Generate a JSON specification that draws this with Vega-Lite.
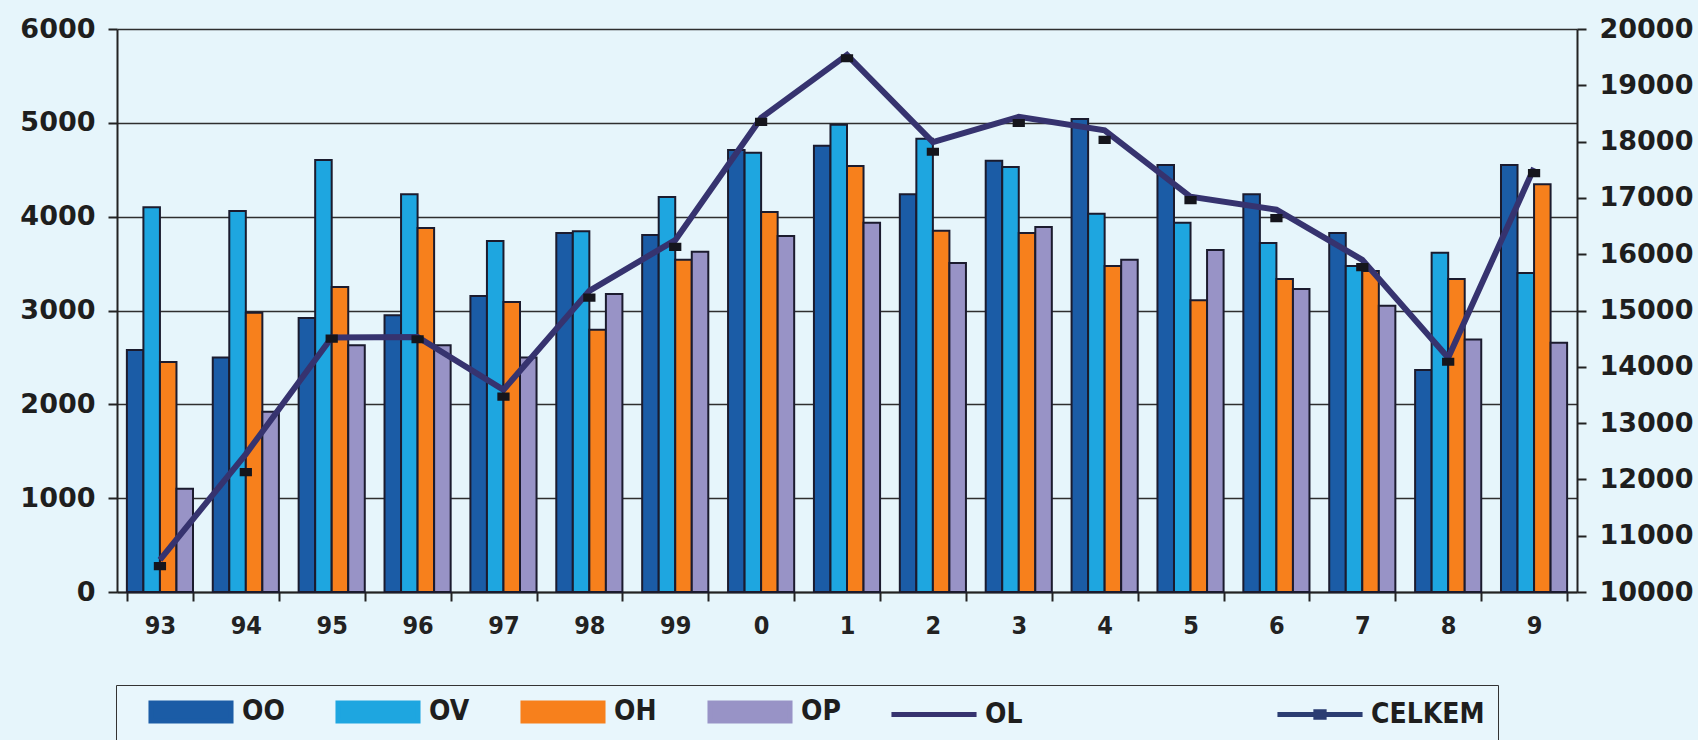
{
  "$schema": "https://vega.github.io/schema/vega-lite/v6.json",
  "width": 1460,
  "height": 563,
  "autosize": {"type": "none"},
  "padding": {"left": 117, "top": 29, "right": 121, "bottom": 148},
  "background": "#e6f5fb",
  "config": {"view": {"stroke": null}, "font": "DejaVu Sans"},
  "datasets": {
    "bars": [
      {"year": "93", "series": "OO", "value": 2580}, {"year": "93", "series": "OV", "value": 4100}, {"year": "93", "series": "OH", "value": 2450}, {"year": "93", "series": "OP", "value": 1100},
      {"year": "94", "series": "OO", "value": 2500}, {"year": "94", "series": "OV", "value": 4060}, {"year": "94", "series": "OH", "value": 2975}, {"year": "94", "series": "OP", "value": 1920},
      {"year": "95", "series": "OO", "value": 2920}, {"year": "95", "series": "OV", "value": 4605}, {"year": "95", "series": "OH", "value": 3250}, {"year": "95", "series": "OP", "value": 2630},
      {"year": "96", "series": "OO", "value": 2950}, {"year": "96", "series": "OV", "value": 4240}, {"year": "96", "series": "OH", "value": 3880}, {"year": "96", "series": "OP", "value": 2630},
      {"year": "97", "series": "OO", "value": 3155}, {"year": "97", "series": "OV", "value": 3740}, {"year": "97", "series": "OH", "value": 3090}, {"year": "97", "series": "OP", "value": 2500},
      {"year": "98", "series": "OO", "value": 3825}, {"year": "98", "series": "OV", "value": 3845}, {"year": "98", "series": "OH", "value": 2795}, {"year": "98", "series": "OP", "value": 3175},
      {"year": "99", "series": "OO", "value": 3805}, {"year": "99", "series": "OV", "value": 4210}, {"year": "99", "series": "OH", "value": 3540}, {"year": "99", "series": "OP", "value": 3625},
      {"year": "0", "series": "OO", "value": 4710}, {"year": "0", "series": "OV", "value": 4680}, {"year": "0", "series": "OH", "value": 4050}, {"year": "0", "series": "OP", "value": 3795},
      {"year": "1", "series": "OO", "value": 4755}, {"year": "1", "series": "OV", "value": 4980}, {"year": "1", "series": "OH", "value": 4540}, {"year": "1", "series": "OP", "value": 3935},
      {"year": "2", "series": "OO", "value": 4240}, {"year": "2", "series": "OV", "value": 4830}, {"year": "2", "series": "OH", "value": 3850}, {"year": "2", "series": "OP", "value": 3505},
      {"year": "3", "series": "OO", "value": 4595}, {"year": "3", "series": "OV", "value": 4530}, {"year": "3", "series": "OH", "value": 3825}, {"year": "3", "series": "OP", "value": 3890},
      {"year": "4", "series": "OO", "value": 5040}, {"year": "4", "series": "OV", "value": 4030}, {"year": "4", "series": "OH", "value": 3475}, {"year": "4", "series": "OP", "value": 3540},
      {"year": "5", "series": "OO", "value": 4550}, {"year": "5", "series": "OV", "value": 3935}, {"year": "5", "series": "OH", "value": 3110}, {"year": "5", "series": "OP", "value": 3645},
      {"year": "6", "series": "OO", "value": 4240}, {"year": "6", "series": "OV", "value": 3720}, {"year": "6", "series": "OH", "value": 3335}, {"year": "6", "series": "OP", "value": 3230},
      {"year": "7", "series": "OO", "value": 3825}, {"year": "7", "series": "OV", "value": 3475}, {"year": "7", "series": "OH", "value": 3420}, {"year": "7", "series": "OP", "value": 3050},
      {"year": "8", "series": "OO", "value": 2365}, {"year": "8", "series": "OV", "value": 3615}, {"year": "8", "series": "OH", "value": 3335}, {"year": "8", "series": "OP", "value": 2690},
      {"year": "9", "series": "OO", "value": 4550}, {"year": "9", "series": "OV", "value": 3400}, {"year": "9", "series": "OH", "value": 4345}, {"year": "9", "series": "OP", "value": 2655}
    ],
    "lines": [
      {"year": "93", "series": "OL", "value": 10570}, {"year": "94", "series": "OL", "value": 12450}, {"year": "95", "series": "OL", "value": 14520}, {"year": "96", "series": "OL", "value": 14530},
      {"year": "97", "series": "OL", "value": 13590}, {"year": "98", "series": "OL", "value": 15350}, {"year": "99", "series": "OL", "value": 16250}, {"year": "0", "series": "OL", "value": 18420},
      {"year": "1", "series": "OL", "value": 19540}, {"year": "2", "series": "OL", "value": 17990}, {"year": "3", "series": "OL", "value": 18440}, {"year": "4", "series": "OL", "value": 18200},
      {"year": "5", "series": "OL", "value": 17020}, {"year": "6", "series": "OL", "value": 16790}, {"year": "7", "series": "OL", "value": 15900}, {"year": "8", "series": "OL", "value": 14160},
      {"year": "9", "series": "OL", "value": 17530},
      {"year": "93", "series": "CELKEM", "value": 10460}, {"year": "94", "series": "CELKEM", "value": 12130}, {"year": "95", "series": "CELKEM", "value": 14500}, {"year": "96", "series": "CELKEM", "value": 14490},
      {"year": "97", "series": "CELKEM", "value": 13470}, {"year": "98", "series": "CELKEM", "value": 15230}, {"year": "99", "series": "CELKEM", "value": 16130}, {"year": "0", "series": "CELKEM", "value": 18350},
      {"year": "1", "series": "CELKEM", "value": 19480}, {"year": "2", "series": "CELKEM", "value": 17820}, {"year": "3", "series": "CELKEM", "value": 18330}, {"year": "4", "series": "CELKEM", "value": 18030},
      {"year": "5", "series": "CELKEM", "value": 16960}, {"year": "6", "series": "CELKEM", "value": 16640}, {"year": "7", "series": "CELKEM", "value": 15770}, {"year": "8", "series": "CELKEM", "value": 14090},
      {"year": "9", "series": "CELKEM", "value": 17440}
    ]
  },
  "encoding": {
    "x": {
      "field": "year",
      "type": "nominal",
      "scale": {"domain": ["93", "94", "95", "96", "97", "98", "99", "0", "1", "2", "3", "4", "5", "6", "7", "8", "9"], "paddingInner": 0.23, "paddingOuter": 0.115},
      "axis": {
        "title": null, "labelAngle": 0, "tickBand": "extent", "tickSize": 9, "tickWidth": 2, "tickColor": "#222222",
        "domainColor": "#222222", "domainWidth": 2, "grid": false,
        "labelFont": "DejaVu Sans Condensed", "labelFontSize": 25, "labelFontWeight": "bold",
        "labelColor": "#222222", "labelPadding": 12
      }
    }
  },
  "layer": [
    {
      "data": {"name": "bars"},
      "mark": {"type": "bar", "stroke": "#1b1b2e", "strokeWidth": 2},
      "encoding": {
        "xOffset": {"field": "series", "type": "nominal", "scale": {"domain": ["OO", "OV", "OH", "OP"], "paddingInner": 0, "paddingOuter": 0}},
        "y": {
          "field": "value", "type": "quantitative", "stack": null,
          "scale": {"domain": [0, 6000], "nice": false, "zero": true},
          "axis": {
            "orient": "left", "title": null, "values": [0, 1000, 2000, 3000, 4000, 5000, 6000], "format": "d",
            "grid": true, "gridColor": "#2e2e2e", "gridWidth": 1.5,
            "domainColor": "#222222", "domainWidth": 2, "tickColor": "#222222", "tickSize": 9, "tickWidth": 2,
            "labelFont": "DejaVu Sans", "labelFontSize": 27, "labelFontWeight": "bold", "labelColor": "#1e1e1e", "labelPadding": 13
          }
        },
        "color": {
          "field": "series", "type": "nominal",
          "scale": {
            "domain": ["OO", "OV", "OH", "OP", "OL", "\u2800\u2800\u2800", "CELKEM"],
            "range": ["#1b5ca6", "#1ea6e0", "#f7801c", "#9893c6", "#36336f", "transparent", "#2b3d72"]
          },
          "legend": {
            "title": null, "orient": "none", "legendX": -1, "legendY": 656, "direction": "horizontal", "columns": 7,
            "symbolSize": 529, "symbolOffset": 48, "symbolStrokeWidth": 5,
            "labelFont": "DejaVu Sans Condensed", "labelFontSize": 28, "labelFontWeight": "bold",
            "labelColor": "#1e1e1e", "labelOffset": 37, "labelLimit": 300, "columnPadding": 31, "padding": 13,
            "strokeColor": "#333333", "fillColor": "#e8f6fc",
            "encode": {"legend": {"strokeWidth": {"value": 2}}}
          }
        }
      }
    },
    {
      "data": {"name": "lines"},
      "layer": [
        {
          "transform": [{"filter": "datum.series == 'OL'"}],
          "mark": {"type": "line", "strokeWidth": 6, "strokeJoin": "miter"},
          "encoding": {
            "y": {
              "field": "value", "type": "quantitative",
              "scale": {"domain": [10000, 20000], "nice": false, "zero": false},
              "axis": {
                "orient": "right", "title": null, "values": [10000, 11000, 12000, 13000, 14000, 15000, 16000, 17000, 18000, 19000, 20000], "format": "d",
                "grid": false, "domainColor": "#222222", "domainWidth": 2, "tickColor": "#222222", "tickSize": 9, "tickWidth": 2,
                "labelFont": "DejaVu Sans", "labelFontSize": 27, "labelFontWeight": "bold", "labelColor": "#1e1e1e", "labelPadding": 13
              }
            },
            "color": {"field": "series", "type": "nominal"}
          }
        },
        {
          "transform": [{"filter": "datum.series == 'CELKEM'"}],
          "mark": {"type": "point", "size": 1156, "filled": true, "color": "#15151c", "opacity": 1},
          "encoding": {
            "y": {"field": "value", "type": "quantitative"},
            "shape": {
              "field": "series", "type": "nominal",
              "scale": {
                "domain": ["OO", "OV", "OH", "OP", "OL", "\u2800\u2800\u2800", "CELKEM"],
                "range": [
                  "M-3.48,-0.78H3.48V0.78H-3.48Z", "M-3.48,-0.78H3.48V0.78H-3.48Z", "M-3.48,-0.78H3.48V0.78H-3.48Z", "M-3.48,-0.78H3.48V0.78H-3.48Z",
                  "M-3.7,0H3.7", "M-3.48,-0.78H3.48V0.78H-3.48Z", "M-3.7,0H3.7M-0.36,-0.24H0.36V0.24H-0.36Z"
                ]
              }
            }
          }
        }
      ]
    }
  ],
  "resolve": {"scale": {"y": "independent"}}
}
